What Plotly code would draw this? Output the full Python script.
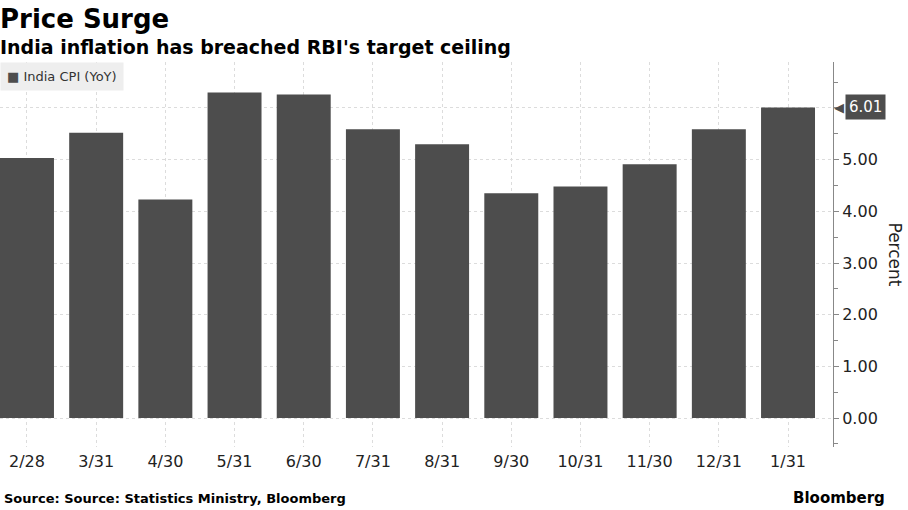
import plotly.graph_objects as go

categories = ["2/28", "3/31", "4/30", "5/31", "6/30", "7/31", "8/31", "9/30", "10/31", "11/30", "12/31", "1/31"]
cpi_values = [5.03, 5.52, 4.23, 6.30, 6.26, 5.59, 5.30, 4.35, 4.48, 4.91, 5.59, 6.01]
y_tick_vals = [0, 1, 2, 3, 4, 5, 6]
y_tick_text = ["0.00", "1.00", "2.00", "3.00", "4.00", "5.00", ""]  # 6.00 hidden behind last-value tag
series_name = "India CPI (YoY)"

BAR = "#4d4d4d"
FONT = "DejaVu Sans"

fig = go.Figure()
fig.add_trace(go.Bar(
    x=list(range(len(categories))), y=cpi_values, name=series_name,
    marker=dict(color=BAR, line=dict(width=0)), width=0.78,
))

fig.update_layout(
    width=908, height=510,
    margin=dict(l=0, r=75, t=62, b=63, autoexpand=False),
    paper_bgcolor="white", plot_bgcolor="white",
    font=dict(family=FONT, color="#222222"),
    showlegend=False,
)
fig.update_xaxes(
    tickmode="array", tickvals=list(range(len(categories))), ticktext=categories,
    range=[-0.39, 11.65], showgrid=True, gridcolor="#dcdcdc", griddash="dot", gridwidth=1,
    showline=False, zeroline=False, ticks="", tickfont=dict(size=16, color="#222222"),
    ticklabelstandoff=3, automargin=False,
)
fig.update_yaxes(
    side="right", range=[-0.56, 6.89], tickmode="array", tickvals=y_tick_vals, ticktext=y_tick_text,
    showgrid=True, gridcolor="#dcdcdc", griddash="dot", gridwidth=1, zeroline=False,
    showline=True, linecolor="#888888", linewidth=1,
    ticks="outside", ticklen=5, tickcolor="#888888",
    minor=dict(dtick=0.5, tick0=0.5, ticks="outside", ticklen=4, tickcolor="#888888", showgrid=False),
    tickfont=dict(size=16, color="#222222"), automargin=False,
)

# Legend box
fig.add_annotation(text=f"<span style='color:{BAR}'>■</span> {series_name}", xref="paper", yref="paper",
                   x=0, y=1, xanchor="left", yanchor="top", showarrow=False, align="left",
                   bgcolor="#eeeeee", borderpad=6, font=dict(size=13, family=FONT, color="#333333"))
# Title and subtitle
fig.add_annotation(text="<b>Price Surge</b>", xref="paper", yref="paper", x=0, y=1,
                   xanchor="left", yanchor="bottom", yshift=26, xshift=-2, showarrow=False,
                   font=dict(size=26, family=FONT, color="#000000"))
fig.add_annotation(text="<b>India inflation has breached RBI's target ceiling</b>", xref="paper", yref="paper",
                   x=0, y=1, xanchor="left", yanchor="bottom", yshift=2, xshift=-2, showarrow=False,
                   font=dict(size=19, family=FONT, color="#000000"))
# Source
fig.add_annotation(text="<b>Source: Source: Statistics Ministry, Bloomberg</b>", xref="paper", yref="paper",
                   x=0, y=0, xanchor="left", yanchor="top", yshift=-42, xshift=2, showarrow=False,
                   font=dict(size=13, family=FONT, color="#000000"))
fig.add_annotation(text="<b>Bloomberg</b>", xref="paper", yref="paper",
                   x=1, y=0, xanchor="right", yanchor="top", yshift=-40, xshift=54, showarrow=False,
                   font=dict(size=15, family=FONT, color="#000000"))
# Axis title
fig.add_annotation(text="Percent", xref="paper", yref="paper", x=1, y=0.5, xanchor="center", yanchor="middle",
                   xshift=62, showarrow=False, textangle=90, font=dict(size=17, family=FONT, color="#222222"))
# Last value tag
last = cpi_values[-1]
fig.add_annotation(text=f"{last:.2f}", xref="paper", yref="y", x=1, y=last,
                   xanchor="left", yanchor="middle", xshift=12, showarrow=False,
                   bgcolor=BAR, borderpad=3, font=dict(size=15, family=FONT, color="white"))
fig.add_annotation(text="◀", xref="paper", yref="y", x=1, y=last, xanchor="left", yanchor="middle",
                   xshift=0, showarrow=False, borderpad=0, font=dict(size=13, color=BAR))

fig.write_html("out.html", post_script="document.body.style.margin='0';",
               config={"displayModeBar": False})
